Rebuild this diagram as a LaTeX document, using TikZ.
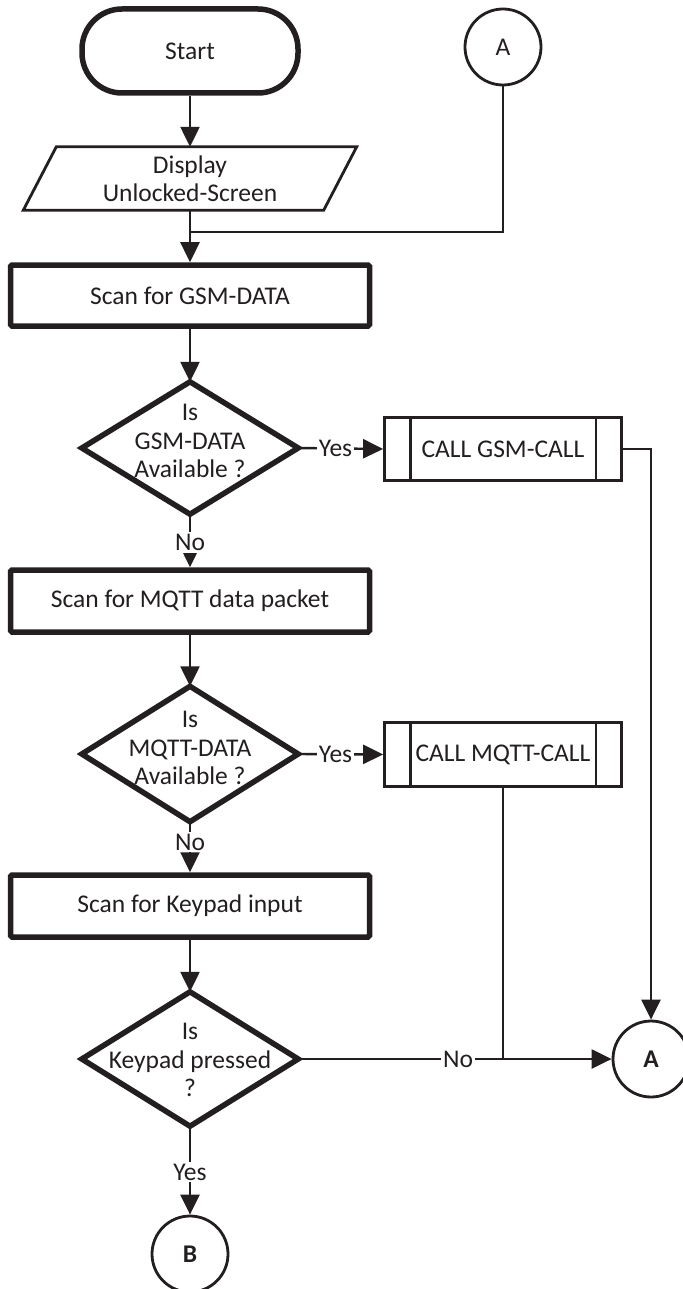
\documentclass[tikz,border=0pt]{standalone}
\usepackage{fontspec}
\setmainfont{Carlito}
\usetikzlibrary{arrows.meta,calc}
\definecolor{ink}{RGB}{35,31,32}
\begin{document}
\begin{tikzpicture}[x=1pt,y=-1pt,
  font=\fontsize{25.5}{28.5}\selectfont,
  every node/.style={text=ink},
  heavy/.style={draw=ink, line width=5.5pt},
  light/.style={draw=ink, line width=2.8pt},
  procbox/.style={heavy, rounded corners=1.5pt, minimum width=359pt, minimum height=61pt, inner sep=0pt},
  callbox/.style={light, minimum width=237pt, minimum height=63pt, inner sep=0pt},
  decision/.style={minimum width=216pt, minimum height=132pt, inner sep=0pt},
  qtext/.style={align=center, inner sep=0pt},
  connector/.style={light, circle, minimum size=76pt, inner sep=0pt},
  conn/.style={draw=ink, line width=2.4pt},
  arr/.style={conn, -{Triangle[length=20pt,width=19pt]}},
  lbl/.style={fill=white, inner sep=2pt}
]
\useasboundingbox (0,0) rectangle (682,1289);
\fill[white] (0,0) rectangle (682,1289);

% terminal and entry connector
\node[heavy, rounded corners=40pt, minimum width=216pt, minimum height=84pt] (start) at (190,51) {Start};
\node[connector] (Atop) at (503,47) {A};

% display output
\node[minimum width=267pt, minimum height=63pt, inner sep=0pt, align=center] (disp) at (190,178.5) {Display\\Unlocked-Screen};
\draw[light] (disp.north west) -- ($(disp.north east)+(33,0)$) -- (disp.south east) -- ($(disp.south west)+(-33,0)$) -- cycle;
\coordinate (j1) at (190,232);

% GSM stage
\node[procbox] (scan1) at (190,295.5) {Scan for GSM-DATA};
\node[decision] (d1) at (190,448) {};
\draw[heavy] (d1.west) -- (d1.north) -- (d1.east) -- (d1.south) -- cycle;
\node[qtext] (d1t) at ($(d1.center)+(0,-7)$) {Is\\GSM-DATA\\Available ?};
\node[callbox] (g) at (503,449) {CALL GSM-CALL};
\draw[light] ($(g.north west)+(27,0)$) -- ($(g.south west)+(27,0)$);
\draw[light] ($(g.north east)+(-27,0)$) -- ($(g.south east)+(-27,0)$);

% MQTT stage
\node[procbox, minimum height=62pt] (scan2) at (190,601) {Scan for MQTT data packet};
\node[decision, minimum height=135pt] (d2) at (190,754) {};
\draw[heavy] (d2.west) -- (d2.north) -- (d2.east) -- (d2.south) -- cycle;
\node[qtext] (d2t) at ($(d2.center)+(0,-6)$) {Is\\MQTT-DATA\\Available ?};
\node[callbox, minimum height=64pt] (m) at (503,754.5) {CALL MQTT-CALL};
\draw[light] ($(m.north west)+(27,0)$) -- ($(m.south west)+(27,0)$);
\draw[light] ($(m.north east)+(-27,0)$) -- ($(m.south east)+(-27,0)$);

% keypad stage
\node[procbox, minimum height=62pt] (scan3) at (190,906) {Scan for Keypad input};
\node[decision, minimum height=134pt] (d3) at (190,1059) {};
\draw[heavy] (d3.west) -- (d3.north) -- (d3.east) -- (d3.south) -- cycle;
\node[qtext] (d3t) at ($(d3.center)+(0,1)$) {Is\\Keypad pressed\\?};
\node[connector] (Abot) at (651,1059) {\bfseries A};
\node[connector] (B) at (190,1254) {\bfseries B};
\coordinate (j2) at (m.south |- d3.east);

% flow lines
\draw[arr] (start.south) -- (disp.north);
\draw[arr] (disp.south) -- (scan1.north);
\draw[conn] (Atop.south) |- (j1);
\draw[arr] (scan1.south) -- (d1.north);
\draw[arr] (d1.east) -- node[lbl, pos=0.44] {Yes} (g.west);
\draw[arr] (g.east) -| (Abot.north);
\draw[arr] (d1.south) -- node[lbl, pos=0.53] {No} (scan2.north);
\draw[arr] (scan2.south) -- (d2.north);
\draw[arr] (d2.east) -- node[lbl, pos=0.44] {Yes} (m.west);
\draw[arr] (d2.south) -- node[lbl, pos=0.4] {No} (scan3.north);
\draw[arr] (scan3.south) -- (d3.north);
\draw[arr] (d3.east) -- node[lbl, pos=0.51] {No} (Abot.west);
\draw[conn] (m.south) -- (j2);
\draw[arr] (d3.south) -- node[lbl, pos=0.52] {Yes} (B.north);
\end{tikzpicture}
\end{document}
